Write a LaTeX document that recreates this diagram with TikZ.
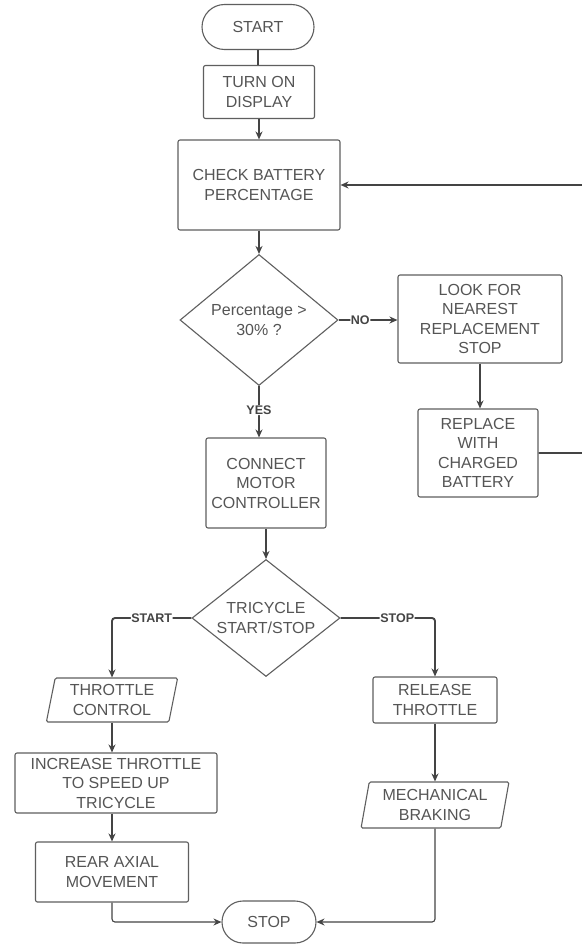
\documentclass[tikz,border=0pt]{standalone}
\usepackage{fontspec}
\setmainfont{Liberation Sans}
\usepackage{tikz}
\usetikzlibrary{shapes.geometric, shapes.misc, arrows.meta}
\definecolor{FlowLine}{RGB}{68, 68, 68}
\definecolor{FlowText}{RGB}{85, 85, 85}
\definecolor{FlowEdge}{RGB}{95, 95, 95}

\tikzset{
  flowbox/.style={draw=FlowEdge, line width=1.1pt, fill=white, align=center,
    text=FlowText, inner sep=0pt, font=\fontsize{16}{19.5}\selectfont},
  termbox/.style={flowbox, rounded rectangle},
  procbox/.style={flowbox, rectangle, rounded corners=2pt},
  decibox/.style={flowbox, diamond, aspect=1.25},
  iobox/.style={flowbox, trapezium, trapezium left angle=78,
    trapezium right angle=102, trapezium stretches=true, rounded corners=1.5pt},
  plainlink/.style={draw=FlowLine, line width=1.1pt},
  link/.style={plainlink, rounded corners=3pt, -{Stealth[length=8pt, width=7pt]}},
  heavylink/.style={link, line width=1.9pt},
  tag/.style={fill=white, inner sep=0.6pt, text=FlowLine,
    font=\fontsize{12.5}{14}\selectfont\bfseries}
}

\begin{document}
\begin{tikzpicture}[x=1pt, y=-1pt]
  \path[use as bounding box, fill=white] (0,0) rectangle (581,947);

  \node[termbox, minimum width=112pt, minimum height=45pt] (start) at (258,27) {START};
  \node[procbox, minimum width=111pt, minimum height=53pt] (display) at (259,92) {TURN ON\\DISPLAY};
  \node[procbox, minimum width=162pt, minimum height=90pt] (battery) at (259,185) {CHECK BATTERY\\PERCENTAGE};
  \node[decibox, minimum width=158pt, minimum height=131pt] (level) at (259,320) {Percentage >\\30\% ?};
  \node[procbox, minimum width=164pt, minimum height=88pt] (search) at (480,319) {LOOK FOR\\NEAREST\\REPLACEMENT\\STOP};
  \node[procbox, minimum width=120pt, minimum height=88pt] (swap) at (478,453) {REPLACE\\WITH\\CHARGED\\BATTERY};
  \node[procbox, minimum width=120pt, minimum height=90pt] (motor) at (266,483) {CONNECT\\MOTOR\\CONTROLLER};
  \node[decibox, minimum width=148pt, minimum height=117pt] (mode) at (266,618) {TRICYCLE\\START/STOP};
  \node[iobox, minimum width=132pt, minimum height=44pt] (throttle) at (112,700) {THROTTLE\\CONTROL};
  \node[procbox, minimum width=124pt, minimum height=46pt] (release) at (435,700) {RELEASE\\THROTTLE};
  \node[procbox, minimum width=202pt, minimum height=60pt] (speedup) at (116,783) {INCREASE THROTTLE\\TO SPEED UP\\TRICYCLE};
  \node[procbox, minimum width=153pt, minimum height=60pt] (axle) at (112,872) {REAR AXIAL\\MOVEMENT};
  \node[iobox, minimum width=148pt, minimum height=46pt] (brake) at (435,805) {MECHANICAL\\BRAKING};
  \node[termbox, minimum width=94pt, minimum height=42pt] (stop) at (269,922) {STOP};

  \coordinate (loop) at (592,453);

  \draw[plainlink] (start.south) -- (start.south |- display.north);
  \draw[link] (display) -- (battery);
  \draw[link] (battery) -- (level);
  \draw[link] (level.east) -- node[tag, pos=0.37] {NO} (level.east -| search.west);
  \draw[link] (level.south) -- node[tag, pos=0.47] {YES} (level.south |- motor.north);
  \draw[link] (search.south) -- (search.south |- swap.north);
  \draw[heavylink] (swap.east) -- (loop) |- (battery.east);
  \draw[link] (motor) -- (mode);
  \draw[heavylink] (mode.west) -| node[tag, pos=0.25] {START} (throttle.north);
  \draw[heavylink] (mode.east) -| node[tag, pos=0.3] {STOP} (release.north);
  \draw[link] (throttle.south) -- (throttle.south |- speedup.north);
  \draw[link] (axle.north |- speedup.south) -- (axle.north);
  \draw[link] (release.south) -- (release.south |- brake.north);
  \draw[link] (axle.south) |- (stop.west);
  \draw[link] (release.south |- brake.south) |- (stop.east);
\end{tikzpicture}
\end{document}
